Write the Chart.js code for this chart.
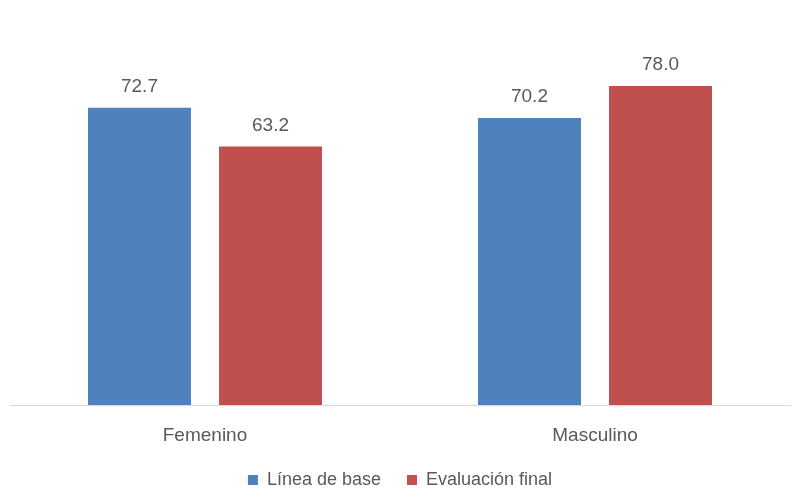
<!DOCTYPE html>
<html>
<head>
<meta charset="utf-8">
<script src="https://cdn.jsdelivr.net/npm/chart.js@4/dist/chart.umd.min.js"></script>
<style>
  html, body { margin: 0; padding: 0; background: #ffffff; }
  #wrap { width: 800px; height: 501px; position: relative; }
</style>
</head>
<body>
<div id="wrap"><canvas id="c"></canvas></div>
<script>
// Categories and series
const categories = ['Femenino', 'Masculino'];
const lineaBase = [72.7, 70.2];
const evaluacionFinal = [63.2, 78.0];
const seriesNames = ['Línea de base', 'Evaluación final'];

const FONT = '"Liberation Sans", Arial, sans-serif';
const TEXT_COLOR = '#595959';

// Value labels drawn above each bar
const barValueLabels = {
  id: 'barValueLabels',
  afterDatasetsDraw(chart) {
    const ctx = chart.ctx;
    ctx.save();
    ctx.font = '19px ' + FONT;
    ctx.fillStyle = TEXT_COLOR;
    ctx.textAlign = 'center';
    ctx.textBaseline = 'middle';
    chart.data.datasets.forEach((ds, i) => {
      const meta = chart.getDatasetMeta(i);
      meta.data.forEach((bar, j) => {
        ctx.fillText(ds.data[j].toFixed(1), bar.x, bar.y - 21);
      });
    });
    ctx.restore();
  }
};

new Chart(document.getElementById('c'), {
  type: 'bar',
  data: {
    labels: categories,
    datasets: [
      { label: seriesNames[0], data: lineaBase, backgroundColor: '#4F81BD' },
      { label: seriesNames[1], data: evaluacionFinal, backgroundColor: '#C0504D' }
    ]
  },
  options: {
    responsive: true,
    maintainAspectRatio: false,
    animation: false,
    layout: { padding: { left: 10, right: 10, top: 37, bottom: 6 } },
    datasets: { bar: { categoryPercentage: 0.672, barPercentage: 0.786 } },
    scales: {
      x: {
        grid: { drawOnChartArea: false, drawTicks: false, color: 'rgba(0,0,0,0)' },
        border: { display: true, color: '#d9d9d9', width: 1 },
        ticks: { color: TEXT_COLOR, font: { family: FONT, size: 19 }, padding: 19 },
        afterFit(scale) { scale.height = 40; }
      },
      y: {
        display: false,
        min: 0,
        max: 90
      }
    },
    plugins: {
      legend: {
        position: 'bottom',
        maxHeight: 50,
        labels: {
          color: TEXT_COLOR,
          font: { family: FONT, size: 18 },
          boxWidth: 10,
          boxHeight: 10,
          padding: 26
        }
      },
      tooltip: { enabled: false }
    }
  },
  plugins: [barValueLabels]
});
</script>
</body>
</html>
